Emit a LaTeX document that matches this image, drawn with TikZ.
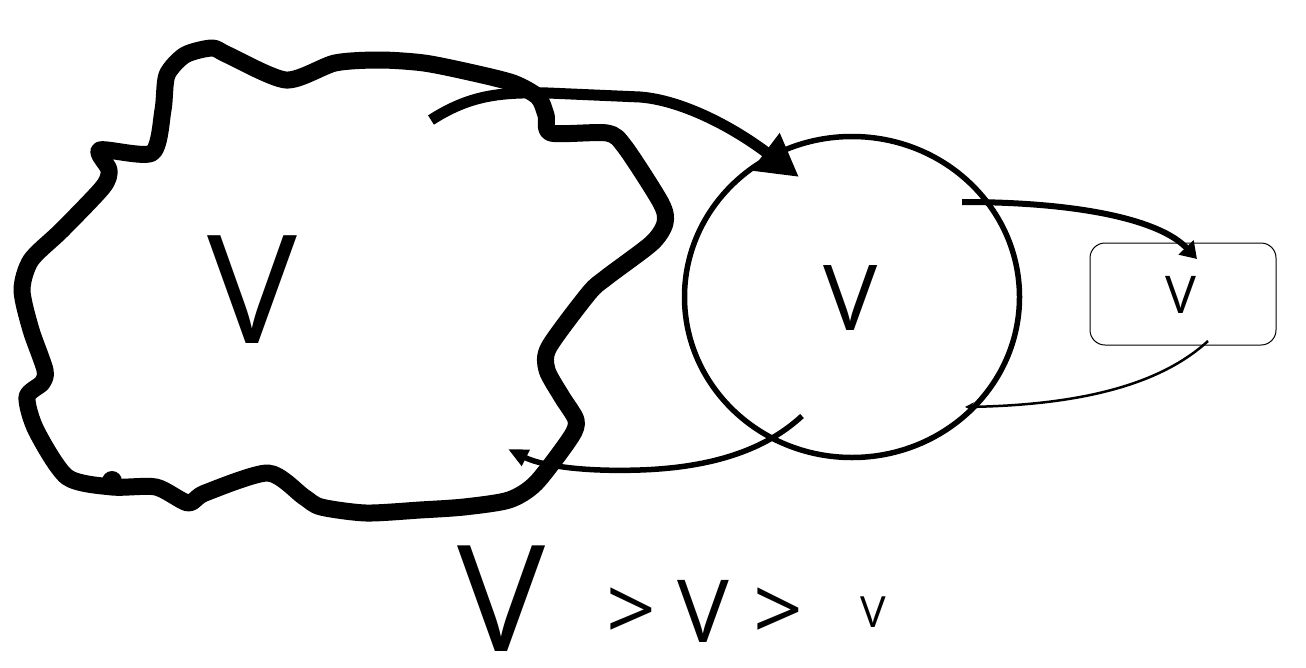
\documentclass[tikz,border=0pt]{standalone}
\usepackage{fontspec}
\setmainfont{Open Sans}
\usetikzlibrary{arrows.meta,shapes.geometric}
\begin{document}
\begin{tikzpicture}[x=1pt,y=-1pt,
  blobline/.style={line width=17pt,line join=round},
  lbl/.style={inner sep=0pt,anchor=center},
  conn/.style={line cap=butt}]
\useasboundingbox (0,0) rectangle (1306,667);
% blob
\draw[blobline] plot[smooth cycle,tension=0.45] coordinates {
(100,150) (152,153) (163,110) (167,75) (185,55) (212,48) (228,55) (286,80)
(335,63) (380,60) (424,63) (469,72) (513,83) (538,97) (546,115) (551,133)
(607,133) (625,147) (661,203) (665,223) (652,243) (607,277) (589,293)
(549,347) (547,370) (562,397) (576,420) (571,437) (536,483) (509,500)
(464,507) (420,510) (366,513) (321,507) (304,497) (268,473) (205,493)
(188,503) (156,487) (112,487) (67,477) (36,430) (27,397) (42,383) (45,370)
(31,330) (22,290) (31,260) (62,230) (103,187) (109,170)};
\fill (112,481) circle (10);
\node[lbl,font=\fontsize{151}{151}\selectfont] (bigV) at (252,290) {V};
% circle
\node[draw,ellipse,line width=5.5pt,minimum width=335pt,minimum height=321pt,inner sep=0pt] (c) at (852,297) {};
\node[lbl,font=\fontsize{91}{91}\selectfont] (cV) at (851,298) {V};
% box
\node[draw,rounded corners=15pt,line width=1pt,minimum width=186pt,minimum height=102pt,inner sep=0pt] (b) at (1183,294) {};
\node[lbl,font=\fontsize{52}{52}\selectfont] (bV) at (1181,295) {V};
% connector coordinates
\coordinate (a1s) at (431,120);
\coordinate (a1e) at (799,177);
\coordinate (a2s) at (962,202);
\coordinate (a2e) at (1197,259);
\coordinate (a3s) at (1208,341);
\coordinate (a3e) at (965,407);
\coordinate (a4s) at (802,416);
\coordinate (a4e) at (508,449);
% arrows
\draw[conn,line width=11pt,-{Triangle[length=42pt,width=44pt]}] (a1s) .. controls (470,95) and (500,92) .. (548,93) -- (640,97) .. controls (680,100) and (730,125) .. (a1e);
\draw[conn,line width=6pt,-{Triangle[length=16pt,width=20pt]}] (a2s) .. controls (1080,202) and (1160,220) .. (a2e);
\draw[conn,line width=2.5pt,-{Stealth[length=9pt,width=9pt]}] (a3s) .. controls (1160,385) and (1080,405) .. (a3e);
\draw[conn,line width=5.5pt,-{Triangle[length=20pt,width=17pt]}] (a4s) .. controls (760,455) and (700,468) .. (640,470) .. controls (580,472) and (540,465) .. (a4e);
% bottom text
\node[lbl,font=\fontsize{148}{148}\selectfont] (t1) at (502,599) {V};
\node[lbl,font=\fontsize{87}{87}\selectfont] (t2) at (631,614) {>};
\node[lbl,font=\fontsize{87}{87}\selectfont] (t3) at (703,611) {V};
\node[lbl,font=\fontsize{87}{87}\selectfont] (t4) at (778,614) {>};
\node[lbl,font=\fontsize{43}{43}\selectfont] (t5) at (873,612) {V};
\end{tikzpicture}
\end{document}
